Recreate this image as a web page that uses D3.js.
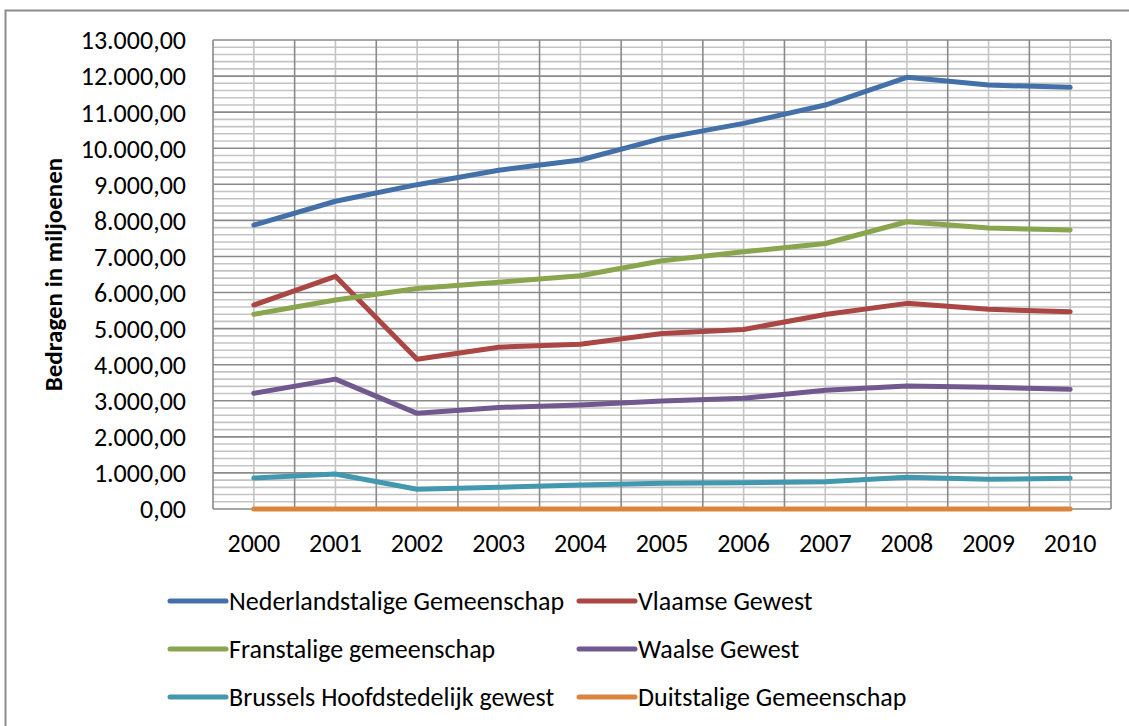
<!DOCTYPE html>
<html>
<head>
<meta charset="utf-8">
<script src="https://cdn.jsdelivr.net/npm/d3@7"></script>
<style>
  body { margin: 0; background: #fff; }
  text { font-family: Calibri, Carlito, Lato, sans-serif; fill: #000; }
</style>
</head>
<body>
<script>
// Data
var years = ["2000","2001","2002","2003","2004","2005","2006","2007","2008","2009","2010"];
var seriesNames = ["Nederlandstalige Gemeenschap","Vlaamse Gewest","Franstalige gemeenschap","Waalse Gewest","Brussels Hoofdstedelijk gewest","Duitstalige Gemeenschap"];
var nederlandstalig = [7871,8530,8990,9390,9673,10274,10690,11197,11965,11751,11688];
var vlaamse = [5654,6450,4149,4485,4568,4865,4975,5390,5700,5534,5469];
var franstalig = [5396,5793,6110,6285,6467,6880,7130,7360,7963,7790,7733];
var waalse = [3207,3600,2652,2815,2880,2993,3067,3290,3409,3372,3317];
var brussels = [859,970,546,601,665,712,730,757,879,823,851];
var duitstalig = [0,0,0,0,0,0,0,0,0,0,0];
var colors = ["#4470aa","#aa4643","#89a54e","#71588f","#4198af","#db843d"];
var yTicks = d3.range(0, 13001, 1000);

var allSeries = [nederlandstalig, vlaamse, franstalig, waalse, brussels, duitstalig];

var width = 1129, height = 726;
var plot = {left: 213, right: 1111, top: 40, bottom: 509};

var svg = d3.select("body").append("svg")
    .attr("width", width)
    .attr("height", height);

// outer chart frame (only top and left visible)
svg.append("path")
    .attr("d", "M5.5,740V10.5H1140")
    .attr("fill", "none")
    .attr("stroke", "#8c8c8c")
    .attr("stroke-width", 2);

var x = d3.scaleBand().domain(years).range([plot.left, plot.right]).padding(0);
var y = d3.scaleLinear().domain([0, 13000]).range([plot.bottom, plot.top]);
var cx = function(d) { return x(d) + x.bandwidth() / 2; };

var locale = d3.formatLocale({decimal: ",", thousands: ".", grouping: [3], currency: ["", ""]});
var fmt = locale.format(",.2f");

var grid = svg.append("g");

// minor horizontal lines every 200
grid.selectAll("line.minor-h")
    .data(d3.range(200, 13000, 200).filter(function(v) { return v % 1000 !== 0; }))
    .enter().append("line")
    .attr("x1", plot.left).attr("x2", plot.right)
    .attr("y1", function(d) { return y(d); }).attr("y2", function(d) { return y(d); })
    .attr("stroke", "#c4c4c4").attr("stroke-width", 1.6);

// minor vertical lines at category centres
grid.selectAll("line.minor-v")
    .data(years)
    .enter().append("line")
    .attr("x1", cx).attr("x2", cx)
    .attr("y1", plot.top).attr("y2", plot.bottom)
    .attr("stroke", "#c4c4c4").attr("stroke-width", 1.6);

// major horizontal lines
grid.selectAll("line.major-h")
    .data(yTicks)
    .enter().append("line")
    .attr("x1", plot.left).attr("x2", plot.right)
    .attr("y1", function(d) { return y(d); }).attr("y2", function(d) { return y(d); })
    .attr("stroke", "#8a8a8a").attr("stroke-width", 1.6);

// major vertical lines at category boundaries
grid.selectAll("line.major-v")
    .data(years.concat(["end"]))
    .enter().append("line")
    .attr("x1", function(d, i) { return plot.left + i * x.bandwidth(); })
    .attr("x2", function(d, i) { return plot.left + i * x.bandwidth(); })
    .attr("y1", plot.top).attr("y2", plot.bottom)
    .attr("stroke", "#8a8a8a").attr("stroke-width", 1.6);

// y tick labels
svg.append("g").selectAll("text")
    .data(yTicks)
    .enter().append("text")
    .attr("x", 186)
    .attr("y", function(d) { return y(d); })
    .attr("dy", "0.36em")
    .attr("text-anchor", "end")
    .style("font-size", "26px")
    .text(function(d) { return fmt(d); });

// x tick labels
svg.append("g").selectAll("text")
    .data(years)
    .enter().append("text")
    .attr("x", cx)
    .attr("y", 552)
    .attr("text-anchor", "middle")
    .style("font-size", "26px")
    .text(function(d) { return d; });

// y axis title
svg.append("text")
    .attr("transform", "translate(62,274.5) rotate(-90)")
    .attr("text-anchor", "middle")
    .style("font-size", "25px")
    .style("font-weight", "bold")
    .text("Bedragen in miljoenen");

// lines
var line = d3.line()
    .x(function(d, i) { return cx(years[i]); })
    .y(function(d) { return y(d); });

svg.append("g").selectAll("path")
    .data(allSeries)
    .enter().append("path")
    .attr("d", line)
    .attr("fill", "none")
    .attr("stroke", function(d, i) { return colors[i]; })
    .attr("stroke-width", 5)
    .attr("stroke-linecap", "round")
    .attr("stroke-linejoin", "round");

// legend
var legend = svg.append("g").selectAll("g")
    .data(seriesNames)
    .enter().append("g")
    .attr("transform", function(d, i) {
      return "translate(" + (i % 2 === 0 ? 170 : 579) + "," + (601 + Math.floor(i / 2) * 48) + ")";
    });

legend.append("line")
    .attr("x1", 0).attr("x2", 56)
    .attr("stroke", function(d, i) { return colors[i]; })
    .attr("stroke-width", 5)
    .attr("stroke-linecap", "round");

legend.append("text")
    .attr("x", 59)
    .attr("dy", "0.36em")
    .style("font-size", "26px")
    .text(function(d) { return d; });
</script>
</body>
</html>
